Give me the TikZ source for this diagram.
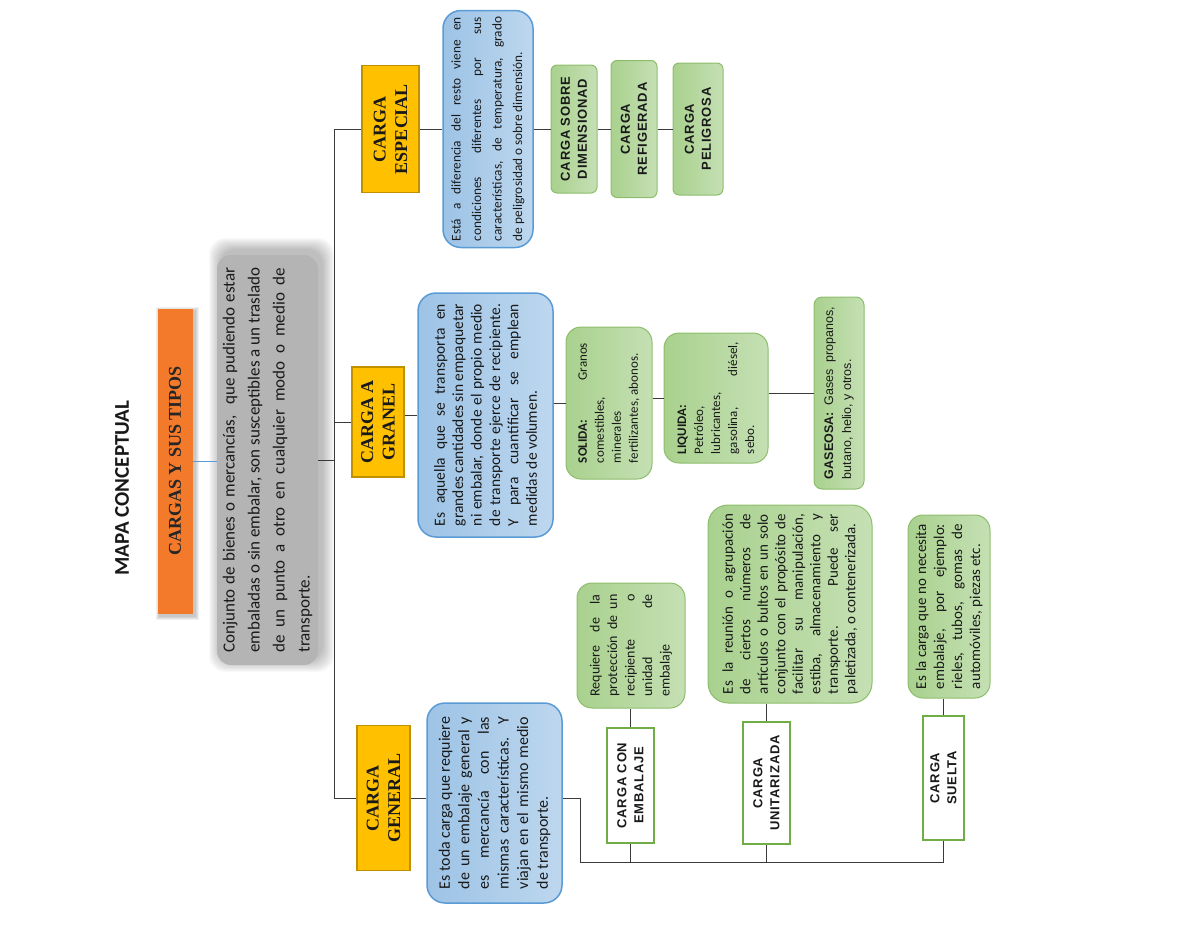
\documentclass[tikz,border=0pt]{standalone}
\usepackage{fontspec}
\setmainfont{Carlito}
\newfontfamily\headfont{Liberation Serif}
\newfontfamily\arialfont{Liberation Sans}
\newfontfamily\labelfont[LetterSpace=6]{Liberation Sans}
\definecolor{linkgray}{HTML}{3A3A3A}
\definecolor{tiposorange}{HTML}{F37A2A}
\definecolor{defgray}{HTML}{B4B4B4}
\definecolor{cargayellow}{HTML}{FFC000}
\definecolor{cargaedge}{HTML}{BF9000}
\definecolor{infoblue}{HTML}{9DC3E6}
\definecolor{infobluelight}{HTML}{BDD7EE}
\definecolor{infoedge}{HTML}{5B9BD5}
\definecolor{tipogreen}{HTML}{A9D18E}
\definecolor{tipogreenlight}{HTML}{C5E0B4}
\definecolor{tipoedge}{HTML}{70AD47}
\usetikzlibrary{calc}
\tikzset{every node/.append style={execute at begin node={\hyphenpenalty=10000\exhyphenpenalty=10000}}}

\begin{document}
\begin{tikzpicture}[x=1pt,y=-1pt,
  rot/.style={rotate=90,inner sep=0pt,text=black!90},
  link/.style={draw=linkgray,line width=0.9pt},
  tipos/.style={rot,fill=tiposorange,font=\headfont\bfseries\fontsize{18}{21}\selectfont,text=black!85},
  defbox/.style={rot,fill=defgray,rounded corners=14pt,align=justify,font=\fontsize{17}{25}\selectfont},
  carga/.style={rot,fill=cargayellow,draw=cargaedge,line width=1.5pt,align=center,font=\headfont\bfseries\fontsize{18}{21.5}\selectfont},
  infobox/.style={rot,left color=infoblue,right color=infobluelight,draw=infoedge,line width=1.5pt,rounded corners=18pt,align=justify},
  tipobox/.style={rot,left color=tipogreen,right color=tipogreenlight,draw=tipoedge!80,line width=1pt,rounded corners=15pt,align=justify},
  tipolabel/.style={rot,left color=tipogreen,right color=tipogreenlight,draw=tipoedge!80,line width=1pt,rounded corners=6pt,align=center,font=\labelfont\bfseries\fontsize{13}{17}\selectfont},
  subcarga/.style={rot,fill=white,draw=tipoedge,line width=2pt,align=center,font=\labelfont\bfseries\fontsize{13}{17}\selectfont}]
\useasboundingbox (0,0) rectangle (1200,927);
% soft shadows behind the title and the definition
\foreach \e in {1,...,12}
  \fill[black,opacity=0.025,rounded corners=16pt] (217-\e+4,255-\e-5) rectangle (318+\e+4,665+\e-5);
\foreach \e in {1,...,4}
  \fill[black,opacity=0.06] (157-\e+3,308-\e+3) rectangle (192+\e+3,613+\e+3);

% title and definition
\node[rot,font=\bfseries\fontsize{21}{26}\selectfont] (mapa) at (122,488) {MAPA CONCEPTUAL};
\node[tipos,minimum width=305pt,minimum height=35pt] (tipos) at (175,461) {CARGAS Y SUS TIPOS};
\node[defbox,minimum width=410pt,minimum height=101pt,text width=385pt] (def) at (267.5,460)
  {Conjunto de bienes o mercancías, \ que pudiendo estar\linebreak embaladas o sin embalar, son susceptibles a un traslado\linebreak de un punto a otro en cualquier modo o medio de\linebreak transporte.};

% the three kinds of cargo
\node[carga,minimum width=127pt,minimum height=57pt] (esp) at (390.5,129) {CARGA\\ESPECIAL};
\node[carga,minimum width=110pt,minimum height=52pt] (gra) at (378,422) {CARGA A\\GRANEL};
\node[carga,minimum width=145pt,minimum height=53pt] (gen) at (383.5,798) {CARGA\\GENERAL};

\node[infobox,minimum width=237pt,minimum height=90pt,text width=224pt,font=\fontsize{13.3}{20.5}\selectfont] (espb) at (488,129)
  {Está a diferencia del resto viene en\linebreak condiciones diferentes por sus\linebreak características, de temperatura, grado\linebreak de peligrosidad o sobre dimensión.};
\node[infobox,minimum width=244pt,minimum height=135pt,text width=222pt,font=\fontsize{15.5}{18.4}\selectfont] (grab) at (485.5,415)
  {Es aquella que se transporta en\linebreak grandes cantidades sin empaquetar\linebreak ni embalar, donde el propio medio\linebreak de transporte ejerce de recipiente.\linebreak Y para cuantificar se emplean\linebreak medidas de volumen.};
\node[infobox,minimum width=200pt,minimum height=135pt,text width=172pt,font=\fontsize{16}{19.6}\selectfont] (genb) at (494.5,803)
  {Es toda carga que requiere\linebreak de un embalaje general y\linebreak es mercancía con las\linebreak mismas características. Y\linebreak viajan en el mismo medio\linebreak de transporte.};

% carga especial
\node[tipolabel,minimum width=128pt,minimum height=46pt] (sobre) at (574,129) {CARGA SOBRE\\DIMENSIONAD};
\node[tipolabel,minimum width=137pt,minimum height=46pt] (refri) at (634,129) {CARGA\\REFIGERADA};
\node[tipolabel,minimum width=132pt,minimum height=50pt] (peli) at (698,129) {CARGA\\PELIGROSA};

% carga a granel
\node[tipobox,minimum width=152pt,minimum height=86pt,text width=120pt,font=\fontsize{13}{17}\selectfont] (sol) at (609,403)
  {\textbf{SOLIDA:} Granos\linebreak comestibles,\\minerales\\fertilizantes, abonos.};
\node[tipobox,minimum width=130pt,minimum height=104pt,text width=112pt,font=\fontsize{13}{17}\selectfont] (liq) at (716,398)
  {\textbf{LIQUIDA:}\\Petróleo,\\lubricantes,\\gasolina, diésel,\linebreak sebo.};
\node[tipobox,rounded corners=8pt,minimum width=192pt,minimum height=50pt,text width=172pt,font=\arialfont\fontsize{12.5}{18}\selectfont] (gas) at (839,393)
  {\textbf{GASEOSA:} Gases propanos,\linebreak butano, helio, y otros.};

% carga general
\node[tipobox,minimum width=125pt,minimum height=108pt,text width=102pt,font=\fontsize{14}{17.5}\selectfont] (req) at (631,645.5)
  {Requiere de la\linebreak protección de un\linebreak recipiente o\linebreak unidad de\linebreak embalaje};
\node[tipobox,rounded corners=20pt,minimum width=198pt,minimum height=164pt,text width=180pt,font=\fontsize{15}{17.5}\selectfont] (reu) at (790,604)
  {Es la reunión o agrupación\linebreak de ciertos números de\linebreak artículos o bultos en un solo\linebreak conjunto con el propósito de\linebreak facilitar su manipulación,\linebreak estiba, almacenamiento y\linebreak transporte. Puede ser\linebreak paletizada, o contenerizada.};
\node[tipobox,minimum width=183pt,minimum height=82pt,text width=165pt,font=\fontsize{15}{18}\selectfont] (sueg) at (949,606.5)
  {Es la carga que no necesita\linebreak embalaje, por ejemplo:\linebreak rieles, tubos, gomas de\linebreak automóviles, piezas etc.};
\node[subcarga,minimum width=115pt,minimum height=47pt] (emb) at (630.5,785.5) {CARGA CON\\EMBALAJE};
\node[subcarga,minimum width=122pt,minimum height=47pt] (uni) at (766.5,783) {CARGA\\UNITARIZADA};
\node[subcarga,minimum width=124pt,minimum height=41pt] (sue) at (943.5,778) {CARGA\\SUELTA};

% connectors
\coordinate (sp1) at (334,129);
\coordinate (sp3) at (334,798);
\coordinate (bus) at (580,862);
\draw[draw=infoedge,line width=1pt] (tipos.south) -- (tipos.south -| def.north);
\draw[link] (def.south) -- (def.south -| sp1);
\draw[link] (sp1) -- (sp3);
\draw[link] (sp1) -- (esp.north);
\draw[link] (gra.north) -- (gra.north -| sp1);
\draw[link] (sp3) -- (gen.north);
\draw[link] (esp.south) -- (espb.north);
\draw[link] (espb.south) -- (sobre.north);
\draw[link] (sobre.south) -- (refri.north);
\draw[link] (refri.south) -- (peli.north);
\draw[link] (grab.north -| gra.south) -- (grab.north);
\draw[link] (sol.north -| grab.south) -- (sol.north);
\draw[link] (liq.north -| sol.south) -- (liq.north);
\draw[link] (gas.north -| liq.south) -- (gas.north);
\draw[link] (gen.south) -- (gen.south -| genb.north);
\draw[link] (gen.south -| genb.south) -| (bus) -| (sue.west);
\draw[link] (emb.west) -- (emb.west |- bus);
\draw[link] (uni.west) -- (uni.west |- bus);
\draw[link] (emb.east) -- (emb.east |- req.west);
\draw[link] (uni.east) -- (uni.east |- reu.west);
\draw[link] (sue.east) -- (sue.east |- sueg.west);
\end{tikzpicture}
\end{document}
